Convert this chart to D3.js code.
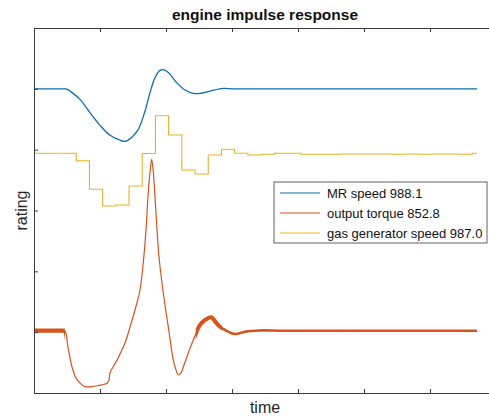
<!DOCTYPE html>
<html>
<head>
<meta charset="utf-8">
<script src="https://cdn.jsdelivr.net/npm/d3@7"></script>
<style>
  body { margin: 0; background: #fff; }
  svg { display: block; }
  text { font-family: "Liberation Sans", Arial, Helvetica, sans-serif; }
</style>
</head>
<body>
<svg id="chart" width="489" height="419"></svg>
<script>
// Axis ticks (no tick labels are shown on this plot)
const xTicks = [0, 1, 2, 3, 4, 5, 6, 7];
const yTicks = [0, 1, 2, 3, 4, 5, 6];

// MR speed
const mrTime  = [0, 0.3, 0.45, 0.5, 0.545, 0.697, 0.848, 1.0, 1.152, 1.303, 1.379, 1.475, 1.580, 1.682, 1.758, 1.833, 1.909, 1.985, 2.061, 2.162, 2.288, 2.414, 2.515, 2.667, 2.869, 3.02, 3.4, 6.712];
const mrSpeed = [5.0, 5.0, 5.0, 4.997, 4.964, 4.827, 4.609, 4.40, 4.236, 4.158, 4.137, 4.197, 4.334, 4.635, 4.938, 5.184, 5.304, 5.309, 5.238, 5.102, 4.98, 4.926, 4.926, 4.964, 5.008, 5.0, 5.0, 5.0];

// output torque
const torqueTime  = [0, 0.3, 0.43, 0.470, 0.515, 0.576, 0.636, 0.697, 0.773, 0.924, 1.106, 1.136, 1.152, 1.258, 1.379, 1.455, 1.530, 1.606, 1.652, 1.697, 1.727, 1.758, 1.783, 1.808, 1.833, 1.864, 1.894, 1.959, 2.035, 2.111, 2.152, 2.186, 2.227, 2.262, 2.338, 2.414, 2.515, 2.591, 2.682, 2.788, 2.894, 3.045, 3.197, 3.424, 3.8, 6.712];
const torqueValue = [1.024, 1.024, 1.024, 1.016, 0.756, 0.427, 0.247, 0.164, 0.104, 0.115, 0.159, 0.214, 0.329, 0.542, 0.822, 1.085, 1.364, 1.693, 2.104, 2.679, 3.222, 3.633, 3.842, 3.633, 3.222, 2.679, 2.236, 1.644, 1.085, 0.542, 0.378, 0.296, 0.329, 0.427, 0.658, 0.871, 1.118, 1.200, 1.244, 1.118, 1.036, 0.970, 1.008, 1.028, 1.024, 1.024];

// gas generator speed (sampled, held between samples)
const ggTime  = [0, 0.64, 0.84, 1.04, 1.24, 1.44, 1.64, 1.84, 2.04, 2.24, 2.44, 2.64, 2.84, 3.04, 3.24, 3.44, 3.64, 4.04, 4.64, 5.44, 5.64, 5.84, 6.04, 6.44, 6.64, 6.712];
const ggSpeed = [3.94, 3.819, 3.349, 3.074, 3.09, 3.403, 3.937, 4.558, 4.241, 3.666, 3.60, 3.912, 4.006, 3.94, 3.912, 3.924, 3.94, 3.924, 3.93, 3.924, 3.93, 3.924, 3.93, 3.924, 3.94, 3.94];

const seriesNames = ["MR speed 988.1", "output torque 852.8", "gas generator speed 987.0"];
const seriesColors = ["#0a6fae", "#D95319", "#EDB120"];

const titleText = "engine impulse response";
const xLabel = "time";
const yLabel = "rating";

// ---- layout ----
const svg = d3.select("#chart");
const box = { left: 34, top: 28, right: 496, bottom: 393 };

const x = d3.scaleLinear().domain([0, 7]).range([box.left, box.right]);
const y = d3.scaleLinear().domain([0, 6]).range([box.bottom, box.top]);

const defs = svg.append("defs");
defs.append("clipPath").attr("id", "plotClip")
  .append("rect")
  .attr("x", box.left).attr("y", box.top)
  .attr("width", box.right - box.left).attr("height", box.bottom - box.top);

const zip = (ts, vs) => ts.map((t, i) => [t, vs[i]]);
const smooth = d3.line().x(d => x(d[0])).y(d => y(d[1])).curve(d3.curveCatmullRom.alpha(0.5));
const stepped = d3.line().x(d => x(d[0])).y(d => y(d[1])).curve(d3.curveStepAfter);

const plot = svg.append("g").attr("clip-path", "url(#plotClip)");

// gas generator speed
plot.append("path")
  .attr("d", stepped(zip(ggTime, ggSpeed)))
  .attr("fill", "none").attr("stroke", seriesColors[2]).attr("stroke-width", 1.1);

// output torque: thin trace, widened where the measured signal is noisy
const torquePath = smooth(zip(torqueTime, torqueValue));
const noisyStretches = [
  { from: 0, to: 0.47, width: 4.2 },
  { from: 2.45, to: 2.85, width: 4.0 },
  { from: 2.85, to: 6.72, width: 2.6 }
];
noisyStretches.forEach((s, i) => {
  defs.append("clipPath").attr("id", "noise" + i)
    .append("rect")
    .attr("x", x(s.from)).attr("y", box.top)
    .attr("width", x(s.to) - x(s.from)).attr("height", box.bottom - box.top);
  plot.append("g").attr("clip-path", `url(#noise${i})`)
    .append("path")
    .attr("d", torquePath)
    .attr("fill", "none").attr("stroke", seriesColors[1])
    .attr("stroke-width", s.width).attr("stroke-linejoin", "round");
});
plot.append("path")
  .attr("d", torquePath)
  .attr("fill", "none").attr("stroke", seriesColors[1]).attr("stroke-width", 1.2);

// MR speed
plot.append("path")
  .attr("d", smooth(zip(mrTime, mrSpeed)))
  .attr("fill", "none").attr("stroke", seriesColors[0]).attr("stroke-width", 1.3);

// ---- axes box with inward ticks ----
const axisColor = "#3a3a3a";
const tickLen = 4;
const axisBottom = d3.axisBottom(x).tickValues(xTicks).tickSizeInner(-tickLen).tickSizeOuter(0).tickFormat("");
const axisTop = d3.axisTop(x).tickValues(xTicks).tickSizeInner(-tickLen).tickSizeOuter(0).tickFormat("");
const axisLeft = d3.axisLeft(y).tickValues(yTicks).tickSizeInner(-tickLen).tickSizeOuter(0).tickFormat("");

function styleAxis(g) {
  g.selectAll("path.domain").attr("stroke", axisColor).attr("stroke-width", 1);
  g.selectAll(".tick line").attr("stroke", axisColor).attr("stroke-width", 1);
}
svg.append("g").attr("transform", `translate(0,${box.bottom})`).call(axisBottom).call(styleAxis);
svg.append("g").attr("transform", `translate(0,${box.top})`).call(axisTop).call(styleAxis);
svg.append("g").attr("transform", `translate(${box.left},0)`).call(axisLeft).call(styleAxis);

// ---- text ----
const midX = (box.left + box.right) / 2;
svg.append("text")
  .attr("x", midX).attr("y", 20)
  .attr("text-anchor", "middle")
  .attr("font-size", 15.5).attr("font-weight", "bold").attr("fill", "#111")
  .text(titleText);

svg.append("text")
  .attr("x", midX).attr("y", 413)
  .attr("text-anchor", "middle")
  .attr("font-size", 16).attr("fill", "#262626")
  .text(xLabel);

svg.append("text")
  .attr("transform", `translate(27,${(box.top + box.bottom) / 2}) rotate(-90)`)
  .attr("text-anchor", "middle")
  .attr("font-size", 16).attr("fill", "#262626")
  .text(yLabel);

// ---- legend ----
const legend = svg.append("g").attr("transform", "translate(274,182)");
legend.append("rect")
  .attr("width", 213).attr("height", 61)
  .attr("fill", "#fff").attr("stroke", "#3a3a3a").attr("stroke-width", 0.8);
const rowY = d3.scalePoint().domain(seriesNames).range([11, 51]);
seriesNames.forEach((name, i) => {
  const row = legend.append("g").attr("transform", `translate(0,${rowY(name)})`);
  row.append("line")
    .attr("x1", 6).attr("x2", 46)
    .attr("stroke", seriesColors[i]).attr("stroke-width", 1.2);
  row.append("text")
    .attr("x", 53).attr("dy", "0.35em")
    .attr("font-size", 13).attr("fill", "#111")
    .text(name);
});
</script>
</body>
</html>
